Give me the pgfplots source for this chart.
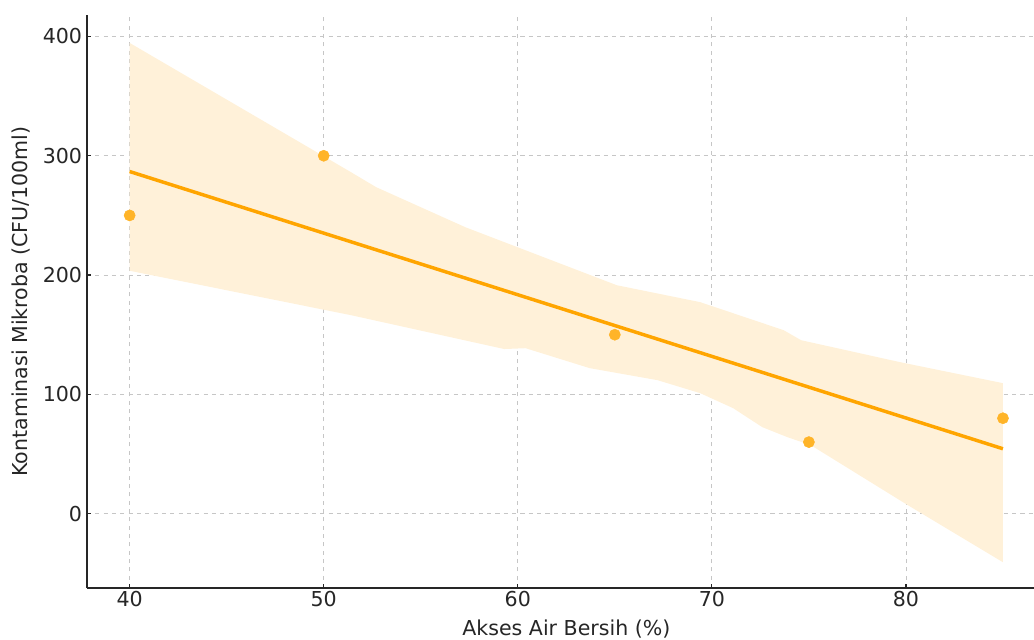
\documentclass[border=0pt]{standalone}
\usepackage{pgfplots}
\pgfplotsset{compat=1.18}
\usepackage{fontspec}
\setmainfont{DejaVu Sans}
\definecolor{lineor}{RGB}{255,165,0}
\definecolor{ptor}{RGB}{255,180,40}
\definecolor{bandor}{RGB}{255,241,217}
\definecolor{spine}{RGB}{38,38,38}
\begin{document}
\begin{tikzpicture}
% 1 px of the reference = 0.72pt
\begin{axis}[
    scale only axis,
    width=681.8pt, height=412.6pt,
    xmin=37.8, xmax=86.6,
    ymin=-62.4, ymax=418,
    xtick={40,50,60,70,80},
    ytick={0,100,200,300,400},
    axis x line*=bottom, axis y line*=left,
    axis line style={spine, line width=1.1pt},
    tick style={spine, line width=0.9pt},
    tick align=inside,
    major tick length=3pt,
    grid=major,
    grid style={dashed, gray!45, line width=0.6pt},
    font=\fontsize{14.8}{17}\selectfont,
    tick label style={font=\fontsize{14.8}{17}\selectfont, text=spine},
    xticklabel style={yshift=1pt},
    /pgf/number format/assume math mode=true,
    xlabel={Akses Air Bersih (\%)},
    ylabel={Kontaminasi Mikroba (CFU/100ml)},
    label style={text=spine},
    xlabel style={yshift=-2pt, xshift=4.3pt},
    ylabel style={yshift=2pt},
    clip=false,
]
% confidence band
\addplot[draw=none, fill=bandor] coordinates {
    (40,394.6) (51.4,286.3) (52.7,273.7) (57.3,240.1) (65.1,191.5)
    (69.4,177.3) (73.7,153.8) (74.6,145.4) (79.7,127.0) (85,109.4)
    (85,-40.7) (80.1,7.1) (75.1,57.4) (73.9,64.1) (72.6,72.5)
    (71.1,88.4) (69.4,101.0) (67.2,111.9) (63.7,122.0) (60.4,138.7)
    (59.3,138.0) (51.4,166.4) (40,203.6)
} -- cycle;
% regression line
\addplot[lineor, line width=2.5pt] coordinates {(40,286.8) (85,54.4)};
% observations
\addplot[only marks, color=ptor, mark=*, mark size=4pt, mark options={draw=ptor, fill=ptor}]
    coordinates {(40,250) (50,300) (65,150) (75,60) (85,80)};
\end{axis}
\pgfresetboundingbox
\path (-62.6pt,-36.7pt) rectangle (681.8pt,423.4pt);
\end{tikzpicture}
\end{document}
